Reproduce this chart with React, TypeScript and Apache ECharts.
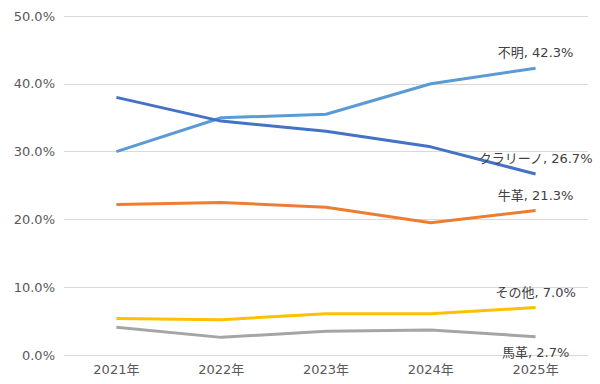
import React, { useEffect, useRef } from "react";
import * as echarts from "echarts";

const categories = ["2021年", "2022年", "2023年", "2024年", "2025年"];
const seriesNames = ["不明", "クラリーノ", "牛革", "その他", "馬革"];
const fumei = [30.0, 35.0, 35.5, 40.0, 42.3];
const clarino = [38.0, 34.5, 33.0, 30.7, 26.7];
const gyukaku = [22.2, 22.5, 21.8, 19.5, 21.3];
const sonota = [5.4, 5.2, 6.1, 6.1, 7.0];
const bakaku = [4.1, 2.6, 3.5, 3.7, 2.7];
const colors = ["#5B9BD5", "#4472C4", "#ED7D31", "#FFC000", "#A5A5A5"];
const labelPositions = ["top", "top", "top", "top", "bottom"];

const FONT = "'DejaVu Sans', 'Noto Sans CJK JP', sans-serif";

export default function App() {
  const ref = useRef<HTMLDivElement>(null);
  useEffect(() => {
    if (!ref.current) return;
    const chart = echarts.init(ref.current, undefined, { renderer: "svg" });
    const allData = [fumei, clarino, gyukaku, sonota, bakaku];
    chart.setOption({
      animation: false,
      grid: { left: 64, right: 12, top: 16, bottom: 29 },
      xAxis: {
        type: "category",
        data: categories,
        boundaryGap: true,
        axisLine: { show: true, lineStyle: { color: "#d9d9d9", width: 1 } },
        axisTick: { show: false },
        axisLabel: { color: "#595959", fontSize: 13, fontFamily: FONT, margin: 8 },
      },
      yAxis: {
        type: "value",
        min: 0,
        max: 50,
        interval: 10,
        axisLine: { show: false },
        axisTick: { show: false },
        splitLine: { lineStyle: { color: "#d9d9d9", width: 1 } },
        axisLabel: {
          color: "#595959",
          fontSize: 13,
          fontFamily: FONT,
          margin: 9,
          formatter: (v: number) => v.toFixed(1) + "%",
        },
      },
      series: allData.map((d, i) => ({
        name: seriesNames[i],
        type: "line",
        data: d,
        showSymbol: true,
        symbol: "circle",
        symbolSize: 0,
        lineStyle: { color: colors[i], width: 3 },
        itemStyle: { color: colors[i] },
        label: {
          show: true,
          position: labelPositions[i],
          distance: 9,
          color: "#404040",
          fontSize: 13,
          fontFamily: FONT,
          formatter: (p: any) =>
            p.dataIndex === d.length - 1 ? `${seriesNames[i]}, ${(p.value as number).toFixed(1)}%` : "",
        },
      })),
    });
    return () => chart.dispose();
  }, []);
  return <div ref={ref} style={{ width: 600, height: 384, position: "absolute", left: 0, top: 0, background: "#fff" }} />;
}
